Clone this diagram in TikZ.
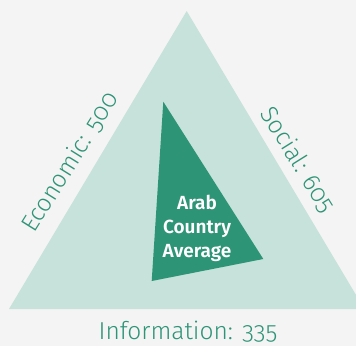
\documentclass[tikz,border=0pt]{standalone}
\usepackage{fontspec}
\setmainfont{Fira Sans Light}[Numbers=OldStyle]
\newfontfamily\boldface{Fira Sans SemiBold}
\definecolor{bgray}{HTML}{F4F4F4}
\definecolor{mint}{HTML}{C6E2DA}
\definecolor{deepgreen}{HTML}{2E9476}
\definecolor{labelgreen}{HTML}{2E9476}
\tikzset{
  axislabel/.style={text=labelgreen, font=\fontsize{24.5}{28}\selectfont, inner sep=0pt},
  corelabel/.style={text=white, font=\boldface\fontsize{19}{24}\selectfont, align=center, inner sep=0pt}
}
\begin{document}
\begin{tikzpicture}[x=1pt,y=-1pt]
  % canvas
  \fill[bgray] (0,0) rectangle (356,346);
  \useasboundingbox (0,0) rectangle (356,346);
  % outer triangle (clipped at the right edge)
  \begin{scope}
    \clip (0,0) rectangle (356,346);
    \fill[mint] (186.7,11) -- (364.4,309) -- (9,309) -- cycle;
  \end{scope}
  % inner triangle
  \fill[deepgreen] (163.3,101.7) -- (263.3,259) -- (151.7,281) -- cycle;
  % labels
  \node[corelabel] (core) at (197,228) {Arab\\Country\\Average};
  \node[axislabel, rotate=58] (econ) at (70,162) {Economic: 500};
  \node[axislabel, rotate=-58] (soc) at (298,160) {Social: 605};
  \node[axislabel] (info) at (188,332) {Information: 335};
\end{tikzpicture}
\end{document}
